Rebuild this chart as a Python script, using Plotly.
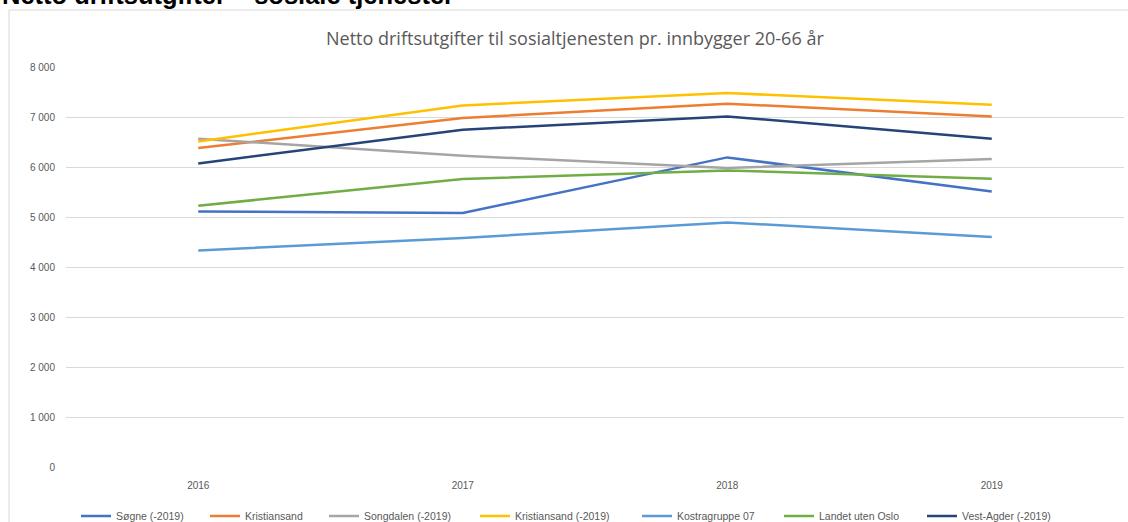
import plotly.graph_objects as go

years = ["2016", "2017", "2018", "2019"]
sogne = [5112, 5080, 6192, 5512]
kristiansand = [6380, 6980, 7266, 7012]
songdalen = [6566, 6226, 5980, 6160]
kristiansand_2019 = [6512, 7232, 7480, 7246]
kostragruppe = [4332, 4580, 4892, 4600]
landet = [5226, 5760, 5932, 5766]
vest_agder = [6072, 6746, 7012, 6566]

names = ["Søgne (-2019)", "Kristiansand", "Songdalen (-2019)", "Kristiansand (-2019)",
         "Kostragruppe 07", "Landet uten Oslo", "Vest-Agder (-2019)"]
values = [sogne, kristiansand, songdalen, kristiansand_2019, kostragruppe, landet, vest_agder]
colors = ["#4472C4", "#ED7D31", "#A5A5A5", "#FFC000", "#5B9BD5", "#70AD47", "#264478"]
legend_widths = [84, 74, 106, 117, 97, 98, 100]

W, H = 1128, 522
L, R, T, B = 66, 1124, 67, 467  # plot area in page pixels


def fx(x):
    return x / W


def fy(y):
    return (H - y) / H


fig = go.Figure()
for name, vals, col, lw in zip(names, values, colors, legend_widths):
    fig.add_trace(go.Scatter(x=years, y=vals, name=name, mode="lines",
                             line=dict(color=col, width=2.5), legendwidth=lw))

font = "Liberation Sans, Arial, sans-serif"
fig.update_layout(
    width=W, height=H,
    margin=dict(l=0, r=0, t=0, b=0, autoexpand=False),
    paper_bgcolor="white", plot_bgcolor="white",
    separators=", ",
    font=dict(family=font, color="#595959", size=10),
    showlegend=True,
    legend=dict(orientation="h", x=fx(76), xanchor="left",
                y=fy(516), yanchor="middle", font=dict(size=10.5, color="#595959"),
                bgcolor="rgba(0,0,0,0)"),
    xaxis=dict(type="category", range=[-0.5, 3.5], domain=[fx(L), fx(R)],
               showgrid=False, automargin=False,
               showline=False, zeroline=False, ticks="", ticklabelstandoff=11,
               tickfont=dict(size=10, color="#595959")),
    yaxis=dict(range=[0, 8000], dtick=1000, tickformat=",d", domain=[fy(B), fy(T)],
               gridcolor="#D9D9D9", gridwidth=1, zeroline=False, showline=False,
               automargin=False, ticks="", ticklabelstandoff=10,
               tickfont=dict(size=10, color="#595959")),
    shapes=[dict(type="rect", xref="paper", yref="paper",
                 x0=fx(9), x1=fx(W + 5), y0=fy(H + 5), y1=fy(10),
                 line=dict(color="#D9D9D9", width=1), fillcolor="rgba(0,0,0,0)",
                 layer="below")],
    annotations=[
        dict(text="Netto driftsutgifter til sosialtjenesten pr. innbygger 20-66 år",
             xref="paper", yref="paper", x=fx(575), y=fy(38),
             xanchor="center", yanchor="middle", showarrow=False,
             font=dict(family="Open Sans, sans-serif", size=18, color="#595959")),
        dict(text="<b>Netto driftsutgifter – sosiale tjenester</b>",
             xref="paper", yref="paper", x=fx(0), y=fy(-5),
             xanchor="left", yanchor="middle", showarrow=False,
             font=dict(family=font, size=25.5, color="#000000")),
    ],
)

fig.write_html("out.html", config={"displayModeBar": False},
               post_script="document.body.style.margin='0';")
